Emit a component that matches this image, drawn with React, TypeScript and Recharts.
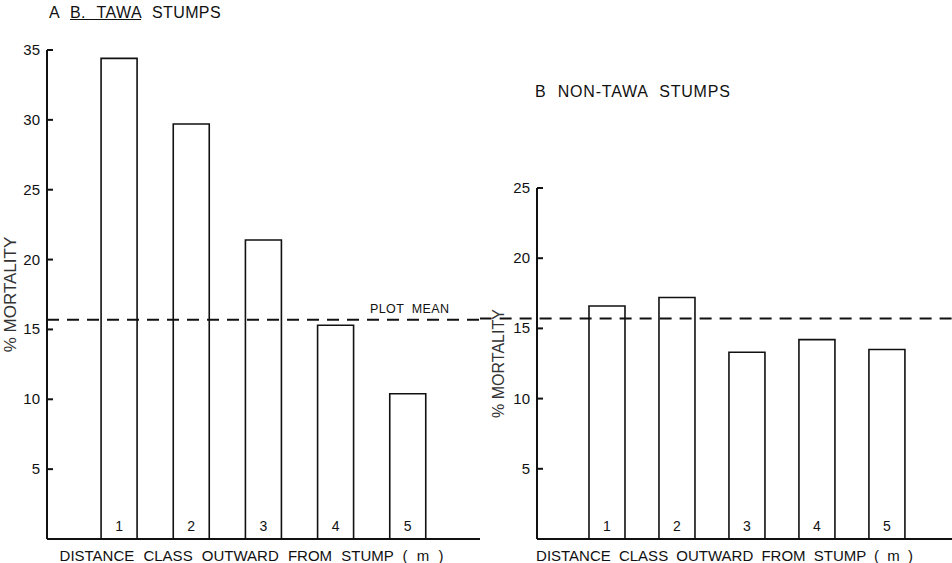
import { BarChart, Bar, XAxis, YAxis, ReferenceLine, LabelList, Label } from "recharts"

const distanceClasses = [1, 2, 3, 4, 5]
const tawaMortality = [34.4, 29.7, 21.4, 15.3, 10.4]
const nonTawaMortality = [16.6, 17.2, 13.3, 14.2, 13.5]
const plotMean = 15.7
const tawaTicks = [5, 10, 15, 20, 25, 30, 35]
const nonTawaTicks = [5, 10, 15, 20, 25]

const FONT = '"Liberation Sans", Arial, Helvetica, sans-serif'

const tawaData = distanceClasses.map((c, i) => ({ cls: c, value: tawaMortality[i] }))
const nonTawaData = distanceClasses.map((c, i) => ({ cls: c, value: nonTawaMortality[i] }))

// tick mark points inward (to the right of the axis), label sits left of it
function InwardTick(props: any) {
  const { x, y, payload } = props
  return (
    <g>
      <line x1={x + 6} y1={y} x2={x + 12} y2={y} stroke="#111" strokeWidth={2} />
      <text x={x - 1} y={y} dy={5} textAnchor="end" fontSize={15} fontFamily={FONT} fill="#111">
        {payload.value}
      </text>
    </g>
  )
}

function Panel(props: {
  data: Array<{ cls: number; value: number }>
  width: number
  top: number
  yWidth: number
  yMax: number
  ticks: number[]
  xMax: number
  meanFrom: number
  meanTo: number
  yLabelOffset: number
  yLabelSize: number
  xLabel: string
  xLabelDx: number
  xLabelWordSpacing: number
}) {
  const { data, width, top, yWidth, yMax, ticks, xMax, meanFrom, meanTo } = props
  return (
    <BarChart
      width={width}
      height={563}
      data={data}
      margin={{ top, right: 0, left: 0, bottom: 0 }}
      style={{ overflow: "visible" }}
    >
      <XAxis
        dataKey="cls"
        type="number"
        domain={[0, xMax]}
        allowDataOverflow
        tick={false}
        tickLine={false}
        height={24}
        axisLine={{ stroke: "#111", strokeWidth: 2 }}
      >
        <Label
          value={props.xLabel}
          position="insideBottom"
          offset={2}
          dx={props.xLabelDx}
          style={{ fontSize: 15, fontFamily: FONT, fill: "#111", wordSpacing: props.xLabelWordSpacing, whiteSpace: "pre" }}
        />
      </XAxis>
      <YAxis
        type="number"
        domain={[0, yMax]}
        ticks={ticks}
        width={yWidth}
        tickSize={0}
        tickMargin={6}
        tick={<InwardTick />}
        axisLine={{ stroke: "#111", strokeWidth: 2 }}
      >
        <Label
          value="% MORTALITY"
          angle={-90}
          position="insideLeft"
          offset={props.yLabelOffset}
          style={{ textAnchor: "middle", fontSize: props.yLabelSize, fontFamily: FONT, fill: "#333" }}
        />
      </YAxis>
      <Bar dataKey="value" barSize={36} fill="#fff" stroke="#111" strokeWidth={1.6} isAnimationActive={false}>
        <LabelList
          dataKey="cls"
          position="insideBottom"
          offset={8}
          style={{ fontSize: 14, fontFamily: FONT, fill: "#111" }}
        />
      </Bar>
      <ReferenceLine
        segment={[
          { x: meanFrom, y: plotMean },
          { x: meanTo, y: plotMean },
        ]}
        ifOverflow="visible"
        stroke="#111"
        strokeWidth={2}
        strokeDasharray="12 8"
      />
    </BarChart>
  )
}

export default function App() {
  return (
    <div style={{ position: "absolute", left: 0, top: 0, width: 952, height: 563, background: "#fff", fontFamily: FONT, color: "#111", overflow: "hidden" }}>
      <div style={{ position: "absolute", left: 0, top: 0 }}>
        <Panel
          data={tawaData}
          width={480}
          top={50}
          yWidth={47}
          yMax={35}
          ticks={tawaTicks}
          xMax={6}
          meanFrom={0}
          meanTo={6.25}
          yLabelOffset={10}
          yLabelSize={17}
          xLabel="DISTANCE  CLASS  OUTWARD  FROM  STUMP   ( m )"
          xLabelDx={-12}
          xLabelWordSpacing={5}
        />
      </div>
      <div style={{ position: "absolute", left: 480, top: 0 }}>
        <Panel
          data={nonTawaData}
          width={472}
          top={188}
          yWidth={57}
          yMax={25}
          ticks={nonTawaTicks}
          xMax={5.93}
          meanFrom={-0.82}
          meanTo={5.93}
          yLabelOffset={18}
          yLabelSize={16}
          xLabel="DISTANCE  CLASS  OUTWARD  FROM  STUMP ( m )"
          xLabelDx={-20}
          xLabelWordSpacing={4}
        />
      </div>
      <div style={{ position: "absolute", left: 49, top: 4, fontSize: 16, whiteSpace: "pre", wordSpacing: 6, letterSpacing: 0.4 }}>
        A <span style={{ textDecoration: "underline" }}>B. TAWA</span> STUMPS
      </div>
      <div style={{ position: "absolute", left: 535, top: 83, fontSize: 16, whiteSpace: "pre", wordSpacing: 6, letterSpacing: 0.8 }}>
        B NON-TAWA STUMPS
      </div>
      <div style={{ position: "absolute", left: 370, top: 302, fontSize: 12.5, whiteSpace: "pre", letterSpacing: 0.4 }}>
        PLOT  MEAN
      </div>
    </div>
  )
}
